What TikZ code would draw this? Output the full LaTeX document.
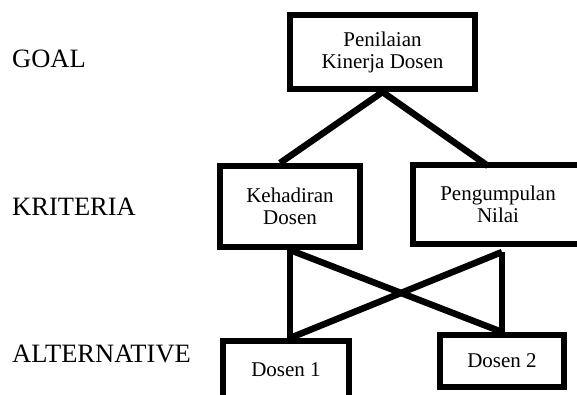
\documentclass[tikz,border=0pt]{standalone}
\usepackage{fontspec}
\setmainfont{Liberation Serif}
\usetikzlibrary{calc}
\tikzset{
	levelname/.style={anchor=base west, inner sep=0, font=\fontsize{26.5}{30}\selectfont},
	hbox/.style={draw, line width=6pt, align=center, inner sep=0, font=\fontsize{21}{22}\selectfont},
	hline/.style={line width=6.5pt}
}

\begin{document}
\begin{tikzpicture}[x=1pt, y=-1pt]
			%%%%% START %%%%%
			
			\clip (0, 0) rectangle (577, 394);
			
			\node[levelname] (goallbl) at (12, 67) {GOAL};
			\node[levelname] (kritlbl) at (12, 215) {KRITERIA};
			\node[levelname] (altlbl) at (12, 362) {ALTERNATIVE};
			
			\node[hbox, minimum width=185pt, minimum height=74pt] (goal) at (382.5, 52) {Penilaian\\Kinerja Dosen};
			
			\node[hbox, minimum width=140pt, minimum height=81pt] (hadir) at (290, 206.5) {Kehadiran\\Dosen};
			\node[hbox, minimum width=170pt, minimum height=79pt] (nilai) at (498, 204.5) {Pengumpulan\\Nilai};
			
			\node[hbox, minimum width=126pt, minimum height=58pt] (dosensatu) at (286, 370) {Dosen 1};
			\node[hbox, minimum width=124pt, minimum height=52pt] (dosendua) at (502, 361) {Dosen 2};
			
			\coordinate (nilaibawah) at ($(nilai.south -| dosendua.north)+(0, 5)$);
			
			\draw[hline] (goal.south) -- ([xshift=-10pt]hadir.north);
			\draw[hline] (goal.south) -- ([xshift=-10pt, yshift=-4pt]nilai.north);
			
			\draw[hline] (hadir.south) -- (hadir.south |- dosensatu.north);
			\draw[hline] (hadir.south) -- (dosendua.north);
			\draw[hline] (nilaibawah) -- (dosendua.north);
			\draw[hline] (nilaibawah) -- (hadir.south |- dosensatu.north);
			
			%%%%% END %%%%%
		\end{tikzpicture}
\end{document}
